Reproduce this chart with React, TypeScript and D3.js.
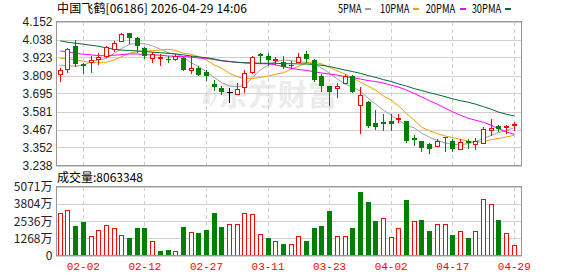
import React from 'react';
import * as d3 from 'd3';

const title = '中国飞鹤[06186] 2026-04-29 14:06';
const volTitle = '成交量:8063348';
const legendLabels = ['5PMA', '10PMA', '20PMA', '30PMA'];
const legendColors = ['#a0a0a0', '#f0a000', '#ff00ff', '#006a35'];

const dates = [
  '01-28', '01-29', '01-30', '02-02', '02-03', '02-04', '02-05', '02-06', '02-09', '02-10',
  '02-11', '02-12', '02-13', '02-16', '02-20', '02-23', '02-24', '02-25', '02-26', '02-27',
  '03-02', '03-03', '03-04', '03-05', '03-06', '03-09', '03-10', '03-11', '03-12', '03-13',
  '03-16', '03-17', '03-18', '03-19', '03-20', '03-23', '03-24', '03-25', '03-26', '03-27',
  '03-30', '03-31', '04-01', '04-02', '04-08', '04-09', '04-10', '04-13', '04-14', '04-15',
  '04-16', '04-17', '04-20', '04-21', '04-22', '04-23', '04-24', '04-27', '04-28', '04-29',
];

const open = [
  3.817, 3.848, 3.997, 3.880, 3.895, 3.912, 3.935, 3.980, 4.029, 4.078,
  4.046, 3.982, 3.920, 3.919, 3.914, 3.917, 3.922, 3.844, 3.859, 3.833,
  3.757, 3.732, 3.706, 3.689, 3.737, 3.829, 3.946, 3.935, 3.908, 3.895,
  3.879, 3.897, 3.946, 3.908, 3.808, 3.742, 3.727, 3.763, 3.806, 3.625,
  3.642, 3.510, 3.514, 3.521, 3.533, 3.519, 3.415, 3.391, 3.376, 3.364,
  3.417, 3.393, 3.342, 3.393, 3.376, 3.383, 3.466, 3.487, 3.484, 3.497,
];
const high = [
  3.855, 3.984, 4.035, 3.889, 3.933, 3.952, 3.999, 4.027, 4.080, 4.080,
  4.056, 3.991, 3.957, 3.946, 3.931, 3.943, 3.929, 3.933, 3.869, 3.842,
  3.782, 3.744, 3.731, 3.759, 3.844, 3.933, 3.954, 3.950, 3.929, 3.933,
  3.903, 3.950, 3.965, 3.912, 3.817, 3.745, 3.763, 3.817, 3.812, 3.734,
  3.645, 3.589, 3.563, 3.568, 3.568, 3.521, 3.429, 3.393, 3.378, 3.408,
  3.419, 3.408, 3.408, 3.408, 3.412, 3.482, 3.531, 3.498, 3.498, 3.512,
];
const low = [
  3.776, 3.833, 3.869, 3.827, 3.833, 3.885, 3.929, 3.967, 4.026, 4.018,
  3.957, 3.920, 3.895, 3.879, 3.897, 3.908, 3.842, 3.827, 3.810, 3.780,
  3.716, 3.691, 3.643, 3.689, 3.706, 3.823, 3.887, 3.876, 3.885, 3.855,
  3.855, 3.897, 3.897, 3.776, 3.712, 3.625, 3.674, 3.759, 3.703, 3.444,
  3.482, 3.472, 3.461, 3.461, 3.514, 3.390, 3.366, 3.329, 3.317, 3.362,
  3.329, 3.329, 3.340, 3.351, 3.344, 3.380, 3.429, 3.455, 3.447, 3.461,
];
const close = [
  3.842, 3.976, 3.884, 3.868, 3.908, 3.927, 3.993, 4.014, 4.070, 4.050,
  3.999, 3.931, 3.944, 3.925, 3.910, 3.933, 3.844, 3.855, 3.814, 3.808,
  3.737, 3.702, 3.706, 3.721, 3.823, 3.925, 3.935, 3.908, 3.914, 3.865,
  3.873, 3.925, 3.914, 3.780, 3.744, 3.706, 3.742, 3.806, 3.706, 3.684,
  3.489, 3.482, 3.501, 3.503, 3.538, 3.393, 3.402, 3.348, 3.344, 3.393,
  3.412, 3.340, 3.387, 3.383, 3.396, 3.467, 3.478, 3.470, 3.487, 3.500,
];
const prevCloseBeforeFirst = 3.8;

// volume in 万
const volume = [
  3160, 3310, 2200, 2430, 1450, 1890, 2260, 2035, 1520, 1320,
  1985, 1985, 1030, 295, 440, 345, 2130, 1740, 1620, 1910,
  3090, 2130, 2280, 2350, 3140, 3060, 1595, 1250, 1030, 810,
  860, 1450, 1030, 1985, 2200, 3235, 1450, 1450, 1985, 4700,
  3900, 2570, 2770, 1375, 2035, 4115, 2550, 2645, 1765, 2280,
  2350, 1470, 1815, 1250, 1815, 4165, 3800, 2645, 1620, 806.3,
];

const ma5 = [
  3.874, 3.871, 3.869, 3.874, 3.897, 3.908, 3.918, 3.950, 3.982, 4.007,
  4.013, 4.010, 3.997, 3.976, 3.954, 3.943, 3.929, 3.890, 3.865, 3.833,
  3.797, 3.763, 3.742, 3.737, 3.748, 3.797, 3.844, 3.876, 3.897, 3.908,
  3.904, 3.897, 3.892, 3.882, 3.855, 3.823, 3.787, 3.755, 3.737, 3.710,
  3.665, 3.627, 3.589, 3.557, 3.525, 3.493, 3.477, 3.442, 3.417, 3.397,
  3.381, 3.372, 3.372, 3.376, 3.391, 3.410, 3.429, 3.448, 3.461, 3.478,
];
const ma10 = [
  3.918, 3.914, 3.908, 3.899, 3.893, 3.893, 3.893, 3.908, 3.929, 3.950,
  3.961, 3.965, 3.967, 3.971, 3.976, 3.968, 3.950, 3.944, 3.929, 3.908,
  3.876, 3.855, 3.823, 3.801, 3.791, 3.791, 3.797, 3.806, 3.817, 3.827,
  3.850, 3.869, 3.889, 3.895, 3.882, 3.860, 3.838, 3.818, 3.793, 3.767,
  3.742, 3.716, 3.678, 3.653, 3.614, 3.568, 3.525, 3.480, 3.458, 3.440,
  3.426, 3.415, 3.404, 3.393, 3.385, 3.391, 3.402, 3.410, 3.420, 3.429,
];
const ma20 = [
  3.965, 3.959, 3.950, 3.944, 3.940, 3.935, 3.935, 3.938, 3.942, 3.946,
  3.946, 3.942, 3.940, 3.938, 3.933, 3.931, 3.929, 3.927, 3.920, 3.918,
  3.910, 3.903, 3.899, 3.893, 3.889, 3.887, 3.884, 3.884, 3.876, 3.865,
  3.855, 3.847, 3.841, 3.833, 3.825, 3.818, 3.812, 3.802, 3.796, 3.787,
  3.777, 3.771, 3.761, 3.748, 3.735, 3.716, 3.695, 3.672, 3.649, 3.627,
  3.602, 3.578, 3.557, 3.538, 3.525, 3.512, 3.493, 3.471, 3.450, 3.436,
];
const ma30 = [
  4.029, 4.020, 4.014, 4.008, 4.001, 3.995, 3.984, 3.976, 3.970, 3.968,
  3.965, 3.961, 3.957, 3.954, 3.950, 3.946, 3.940, 3.933, 3.927, 3.922,
  3.914, 3.903, 3.897, 3.893, 3.890, 3.889, 3.887, 3.887, 3.887, 3.884,
  3.884, 3.883, 3.882, 3.879, 3.874, 3.866, 3.855, 3.844, 3.834, 3.823,
  3.809, 3.797, 3.783, 3.771, 3.755, 3.742, 3.726, 3.713, 3.700, 3.688,
  3.675, 3.661, 3.649, 3.640, 3.627, 3.611, 3.595, 3.576, 3.563, 3.552,
];

const priceMin = 3.238;
const priceMax = 4.152;
const priceTickLabels = ['3.238', '3.352', '3.467', '3.581', '3.695', '3.809', '3.923', '4.038', '4.152'];
const volMax = 5071;
const volTickLabels = ['0', '1268万', '2536万', '3804万', '5071万'];
const tickDates = ['02-02', '02-12', '02-27', '03-11', '03-23', '04-02', '04-17', '04-29'];

const W = 578;
const H = 276;
const L = 56;
const R = 522;
const mainTop = 21.5;
const mainBottom = 165.5;
const volTop = 186.5;
const volBottom = 255.5;

const RED = '#ff0000';
const GREEN = '#008000';
const GRID = '#d0d0d0';
const FRAME = '#999999';

export default function App() {
  const idx = d3.range(dates.length);
  const x = d3.scaleBand<number>().domain(idx).range([56.45, 518.15]).padding(0);
  const cx = (i: number) => (x(i) as number) + x.bandwidth() / 2;
  const y = d3.scaleLinear().domain([priceMin, priceMax]).range([mainBottom, mainTop]);
  const yv = d3.scaleLinear().domain([0, volMax]).range([volBottom, volTop]);

  const n = priceTickLabels.length;
  const priceTicks = d3.range(n).map((k) => priceMin + ((priceMax - priceMin) * k) / (n - 1));
  const volTicks = volTickLabels.map((_, k) => (volMax * k) / (volTickLabels.length - 1));

  const line = (arr: number[]) =>
    d3
      .line<number>()
      .x((_, i) => cx(i))
      .y((d) => y(d))(arr) as string;

  const mas = [ma5, ma10, ma20, ma30];
  const bodyW = 5;
  const font = '"Liberation Sans", Arial, sans-serif';
  const cjk = '"Noto Sans CJK SC", "Liberation Sans", sans-serif';

  const tickIdx = tickDates.map((d) => dates.indexOf(d));
  const legendX = [338, 380, 425.7, 471.7];
  const legendW = [23.5, 29.5, 29.5, 29.5];
  const legendDashX = [365, 412.7, 459.5, 505];

  return (
    <svg
      width={W}
      height={H}
      style={{ position: 'absolute', left: 0, top: 0, background: '#fff' }}
      shapeRendering="crispEdges"
    >
      <rect x={0} y={0} width={W} height={H} fill="#fff" />

      {/* title */}
      <text x={57} y={13} fontSize={12} fontFamily={cjk} fill="#000" textLength={190} lengthAdjust="spacing">
        {title}
      </text>

      {/* legend */}
      {legendLabels.map((lab, k) => (
        <g key={lab}>
          <text
            x={legendX[k]}
            y={13}
            fontSize={12}
            fontFamily={cjk}
            fill="#000"
            textLength={legendW[k]}
            lengthAdjust="spacingAndGlyphs"
          >
            {lab}
          </text>
          <rect x={legendDashX[k]} y={8} width={6} height={2} fill={legendColors[k]} />
        </g>
      ))}

      {/* watermark */}
      <g fill="#ebebeb" shapeRendering="auto">
        <path d="M203 104 C 203 92, 210 84, 218 82 C 212 88, 209 96, 210 104 Z M208 108 C 214 100, 216 92, 217 86 C 219 94, 216 102, 208 108 Z" />
        <text x={218} y={106} fontSize={29} fontWeight="bold" fontFamily={cjk} letterSpacing={1}>
          东方财富
        </text>
      </g>

      {/* main grid */}
      {priceTicks.map((t, k) => (
        <line key={'pg' + k} x1={L} x2={R} y1={Math.round(y(t)) + 0.5} y2={Math.round(y(t)) + 0.5} stroke={GRID} />
      ))}
      {tickIdx.map((i) => (
        <line
          key={'vg' + i}
          x1={Math.floor(cx(i)) + 0.5}
          x2={Math.floor(cx(i)) + 0.5}
          y1={mainTop}
          y2={mainBottom}
          stroke={GRID}
          strokeDasharray="4,3"
        />
      ))}

      {/* price labels */}
      {priceTicks.map((t, k) => (
        <text
          key={'pl' + k}
          x={52.5}
          y={y(t) + 4}
          fontSize={12}
          fontFamily={font}
          textAnchor="end"
          fill="#222"
        >
          {priceTickLabels[k]}
        </text>
      ))}

      {/* MA lines */}
      <g shapeRendering="auto">
        {mas.map((m, k) => (
          <path key={'ma' + k} d={line(m)} fill="none" stroke={legendColors[k]} strokeWidth={1} />
        ))}
      </g>

      {/* candles */}
      {idx.map((i) => {
        const o = open[i];
        const c = close[i];
        const color = c > o ? RED : c < o ? GREEN : '#000';
        const X = Math.round(cx(i) - bodyW / 2);
        const wx = X + 2.5;
        const top = Math.round(y(Math.max(o, c)));
        const bot = Math.round(y(Math.min(o, c)));
        return (
          <g key={'c' + i}>
            <line x1={wx} x2={wx} y1={Math.round(y(high[i]))} y2={Math.round(y(low[i])) + 1} stroke={color} />
            {c > o ? (
              <rect x={X + 0.5} y={top + 0.5} width={bodyW - 1} height={Math.max(bot - top, 1)} fill="#fff" stroke={color} />
            ) : c < o ? (
              <rect x={X} y={top} width={bodyW} height={Math.max(bot - top, 1)} fill={color} />
            ) : (
              <line x1={X - 0.5} x2={X + bodyW + 0.5} y1={top + 0.5} y2={top + 0.5} stroke={color} />
            )}
          </g>
        );
      })}

      {/* main frame */}
      <rect x={L + 0.5} y={mainTop} width={R - L - 1} height={mainBottom - mainTop} fill="none" stroke={FRAME} />

      {/* volume title */}
      <text x={57} y={182} fontSize={12} fontFamily={cjk} fill="#000">
        {volTitle}
      </text>

      {/* volume grid */}
      {volTicks.map((t, k) => (
        <line key={'vgl' + k} x1={L} x2={R} y1={Math.round(yv(t)) + 0.5} y2={Math.round(yv(t)) + 0.5} stroke={GRID} />
      ))}
      {tickIdx.map((i) => (
        <line
          key={'vvg' + i}
          x1={Math.floor(cx(i)) + 0.5}
          x2={Math.floor(cx(i)) + 0.5}
          y1={volTop}
          y2={volBottom}
          stroke={GRID}
          strokeDasharray="4,3"
        />
      ))}
      {volTicks.map((t, k) => (
        <text
          key={'vl' + k}
          x={52.5}
          y={yv(t) + 4.5}
          fontSize={12}
          fontFamily={cjk}
          textAnchor="end"
          fill="#222"
        >
          {volTickLabels[k]}
        </text>
      ))}

      {/* volume bars */}
      {idx.map((i) => {
        const prev = i === 0 ? prevCloseBeforeFirst : close[i - 1];
        const up = close[i] >= prev;
        const X = Math.round(cx(i) - bodyW / 2);
        const top = Math.round(yv(volume[i]));
        const bot = Math.round(yv(0));
        return up ? (
          <rect key={'v' + i} x={X + 0.5} y={top + 0.5} width={bodyW - 1} height={bot - top - 1} fill="#fff" stroke={RED} />
        ) : (
          <rect key={'v' + i} x={X} y={top} width={bodyW} height={bot - top} fill={GREEN} />
        );
      })}

      <rect x={L + 0.5} y={volTop} width={R - L - 1} height={volBottom - volTop} fill="none" stroke={FRAME} />

      {/* x labels */}
      {tickIdx.map((i, k) => (
        <text
          key={'xl' + k}
          x={cx(i)}
          y={270}
          fontSize={11}
          fontFamily={'"Liberation Mono", monospace'}
          textAnchor="middle"
          fill={RED}
        >
          {tickDates[k]}
        </text>
      ))}
    </svg>
  );
}
